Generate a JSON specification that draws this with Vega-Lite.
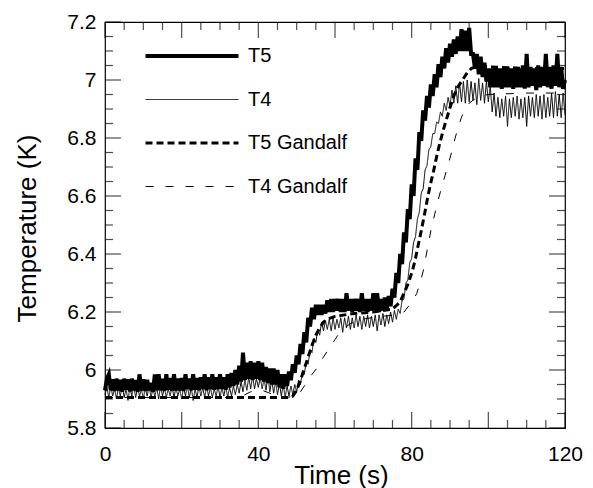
{
  "$schema": "https://vega.github.io/schema/vega-lite/v6.json",
  "width": 460,
  "height": 406,
  "autosize": {"type": "none"},
  "padding": {"left": 105, "top": 22, "right": 28, "bottom": 60},
  "background": "white",
  "config": {
    "view": {"stroke": "black", "strokeWidth": 1.2},
    "font": "Liberation Sans",
    "axis": {"grid": false, "domain": false, "ticks": false, "labelFont": "Liberation Sans", "titleFont": "Liberation Sans", "labelColor": "black", "titleColor": "black"}
  },
  "layer": [
    {
      "data": {"values": [
        {"t":0,"T5":5.93,"T4":5.915},{"t":0.5,"T5":5.97,"T4":5.94},{"t":1,"T5":5.985,"T4":5.905},{"t":1.5,"T5":5.93,"T4":5.945},
        {"t":2,"T5":5.968,"T4":5.91},{"t":2.5,"T5":5.928,"T4":5.935},{"t":3,"T5":5.97,"T4":5.9},{"t":3.5,"T5":5.93,"T4":5.94},
        {"t":4,"T5":5.966,"T4":5.91},{"t":4.5,"T5":5.925,"T4":5.945},{"t":5,"T5":5.97,"T4":5.905},{"t":5.5,"T5":5.932,"T4":5.935},
        {"t":6,"T5":5.968,"T4":5.895},{"t":6.5,"T5":5.926,"T4":5.94},{"t":7,"T5":5.97,"T4":5.91},{"t":7.5,"T5":5.93,"T4":5.945},
        {"t":8,"T5":5.965,"T4":5.905},{"t":8.5,"T5":5.925,"T4":5.94},{"t":9,"T5":5.985,"T4":5.91},{"t":9.5,"T5":5.93,"T4":5.935},
        {"t":10,"T5":5.968,"T4":5.9},{"t":10.5,"T5":5.928,"T4":5.94},{"t":11,"T5":5.966,"T4":5.91},{"t":11.5,"T5":5.93,"T4":5.945},
        {"t":12,"T5":5.955,"T4":5.905},{"t":12.5,"T5":5.925,"T4":5.935},{"t":13,"T5":5.985,"T4":5.91},{"t":13.5,"T5":5.93,"T4":5.94},
        {"t":14,"T5":5.985,"T4":5.9},{"t":14.5,"T5":5.93,"T4":5.945},{"t":15,"T5":5.97,"T4":5.91},{"t":15.5,"T5":5.928,"T4":5.94},
        {"t":16,"T5":5.985,"T4":5.905},{"t":16.5,"T5":5.932,"T4":5.935},{"t":17,"T5":5.972,"T4":5.91},{"t":17.5,"T5":5.928,"T4":5.945},
        {"t":18,"T5":5.985,"T4":5.905},{"t":18.5,"T5":5.93,"T4":5.94},{"t":19,"T5":5.97,"T4":5.91},{"t":19.5,"T5":5.93,"T4":5.935},
        {"t":20,"T5":5.972,"T4":5.9},{"t":20.5,"T5":5.928,"T4":5.94},{"t":21,"T5":5.985,"T4":5.91},{"t":21.5,"T5":5.935,"T4":5.945},
        {"t":22,"T5":5.97,"T4":5.905},{"t":22.5,"T5":5.93,"T4":5.94},{"t":23,"T5":5.985,"T4":5.895},{"t":23.5,"T5":5.932,"T4":5.935},
        {"t":24,"T5":5.972,"T4":5.905},{"t":24.5,"T5":5.93,"T4":5.945},{"t":25,"T5":5.975,"T4":5.91},{"t":25.5,"T5":5.935,"T4":5.94},
        {"t":26,"T5":5.985,"T4":5.905},{"t":26.5,"T5":5.93,"T4":5.945},{"t":27,"T5":5.975,"T4":5.91},{"t":27.5,"T5":5.935,"T4":5.94},
        {"t":28,"T5":5.985,"T4":5.905},{"t":28.5,"T5":5.932,"T4":5.935},{"t":29,"T5":5.975,"T4":5.91},{"t":29.5,"T5":5.935,"T4":5.945},
        {"t":30,"T5":5.985,"T4":5.905},{"t":30.5,"T5":5.935,"T4":5.94},{"t":31,"T5":5.975,"T4":5.91},{"t":31.5,"T5":5.932,"T4":5.945},
        {"t":32,"T5":5.985,"T4":5.905},{"t":32.5,"T5":5.94,"T4":5.94},{"t":33,"T5":5.99,"T4":5.91},{"t":33.5,"T5":5.945,"T4":5.945},
        {"t":34,"T5":6.0,"T4":5.915},{"t":34.5,"T5":5.95,"T4":5.95},{"t":35,"T5":6.015,"T4":5.92},{"t":35.5,"T5":5.96,"T4":5.96},
        {"t":36,"T5":6.06,"T4":5.925},{"t":36.5,"T5":5.965,"T4":5.965},{"t":37,"T5":6.025,"T4":5.93},{"t":37.5,"T5":5.97,"T4":5.975},
        {"t":38,"T5":6.03,"T4":5.935},{"t":38.5,"T5":5.965,"T4":5.98},{"t":39,"T5":6.025,"T4":5.935},{"t":39.5,"T5":5.97,"T4":5.97},
        {"t":40,"T5":6.03,"T4":5.94},{"t":40.5,"T5":5.965,"T4":5.975},{"t":41,"T5":6.025,"T4":5.935},{"t":41.5,"T5":5.96,"T4":5.97},
        {"t":42,"T5":6.01,"T4":5.93},{"t":42.5,"T5":5.955,"T4":5.98},{"t":43,"T5":6.005,"T4":5.925},{"t":43.5,"T5":5.95,"T4":5.965},
        {"t":44,"T5":6.005,"T4":5.92},{"t":44.5,"T5":5.95,"T4":5.96},{"t":45,"T5":6.0,"T4":5.915},{"t":45.5,"T5":5.94,"T4":5.955},
        {"t":46,"T5":5.985,"T4":5.91},{"t":46.5,"T5":5.935,"T4":5.95},{"t":47,"T5":5.985,"T4":5.905},{"t":47.5,"T5":5.945,"T4":5.945},
        {"t":48,"T5":5.995,"T4":5.91},{"t":48.5,"T5":5.965,"T4":5.945},{"t":49,"T5":6.02,"T4":5.915},{"t":49.5,"T5":5.99,"T4":5.95},
        {"t":50,"T5":6.05,"T4":5.925},{"t":50.5,"T5":6.02,"T4":5.965},{"t":51,"T5":6.09,"T4":5.95},{"t":51.5,"T5":6.055,"T4":5.995},
        {"t":52,"T5":6.13,"T4":5.985},{"t":52.5,"T5":6.095,"T4":6.03},{"t":53,"T5":6.18,"T4":6.02},{"t":53.5,"T5":6.15,"T4":6.07},
        {"t":54,"T5":6.215,"T4":6.06},{"t":54.5,"T5":6.175,"T4":6.11},{"t":55,"T5":6.225,"T4":6.095},{"t":55.5,"T5":6.19,"T4":6.14},
        {"t":56,"T5":6.225,"T4":6.12},{"t":56.5,"T5":6.19,"T4":6.165},{"t":57,"T5":6.225,"T4":6.135},{"t":57.5,"T5":6.195,"T4":6.17},
        {"t":58,"T5":6.24,"T4":6.14},{"t":58.5,"T5":6.2,"T4":6.175},{"t":59,"T5":6.245,"T4":6.135},{"t":59.5,"T5":6.2,"T4":6.18},
        {"t":60,"T5":6.245,"T4":6.14},{"t":60.5,"T5":6.205,"T4":6.175},{"t":61,"T5":6.245,"T4":6.145},{"t":61.5,"T5":6.2,"T4":6.18},
        {"t":62,"T5":6.245,"T4":6.13},{"t":62.5,"T5":6.2,"T4":6.18},{"t":63,"T5":6.265,"T4":6.145},{"t":63.5,"T5":6.205,"T4":6.185},
        {"t":64,"T5":6.245,"T4":6.14},{"t":64.5,"T5":6.2,"T4":6.18},{"t":65,"T5":6.245,"T4":6.145},{"t":65.5,"T5":6.205,"T4":6.19},
        {"t":66,"T5":6.245,"T4":6.15},{"t":66.5,"T5":6.2,"T4":6.185},{"t":67,"T5":6.265,"T4":6.14},{"t":67.5,"T5":6.205,"T4":6.185},
        {"t":68,"T5":6.245,"T4":6.15},{"t":68.5,"T5":6.2,"T4":6.19},{"t":69,"T5":6.245,"T4":6.145},{"t":69.5,"T5":6.205,"T4":6.185},
        {"t":70,"T5":6.265,"T4":6.15},{"t":70.5,"T5":6.205,"T4":6.19},{"t":71,"T5":6.265,"T4":6.135},{"t":71.5,"T5":6.2,"T4":6.19},
        {"t":72,"T5":6.245,"T4":6.155},{"t":72.5,"T5":6.205,"T4":6.195},{"t":73,"T5":6.25,"T4":6.15},{"t":73.5,"T5":6.21,"T4":6.19},
        {"t":74,"T5":6.255,"T4":6.16},{"t":74.5,"T5":6.22,"T4":6.2},{"t":75,"T5":6.28,"T4":6.165},{"t":75.5,"T5":6.25,"T4":6.205},
        {"t":76,"T5":6.335,"T4":6.175},{"t":76.5,"T5":6.3,"T4":6.21},{"t":77,"T5":6.4,"T4":6.195},{"t":77.5,"T5":6.365,"T4":6.24},
        {"t":78,"T5":6.475,"T4":6.245},{"t":78.5,"T5":6.44,"T4":6.3},{"t":79,"T5":6.555,"T4":6.31},{"t":79.5,"T5":6.52,"T4":6.37},
        {"t":80,"T5":6.64,"T4":6.385},{"t":80.5,"T5":6.6,"T4":6.44},{"t":81,"T5":6.73,"T4":6.46},{"t":81.5,"T5":6.69,"T4":6.52},
        {"t":82,"T5":6.82,"T4":6.545},{"t":82.5,"T5":6.79,"T4":6.61},{"t":83,"T5":6.895,"T4":6.625},{"t":83.5,"T5":6.86,"T4":6.69},
        {"t":84,"T5":6.945,"T4":6.705},{"t":84.5,"T5":6.905,"T4":6.76},{"t":85,"T5":6.985,"T4":6.77},{"t":85.5,"T5":6.945,"T4":6.815},
        {"t":86,"T5":7.02,"T4":6.815},{"t":86.5,"T5":6.975,"T4":6.855},{"t":87,"T5":7.055,"T4":6.85},{"t":87.5,"T5":7.01,"T4":6.89},
        {"t":88,"T5":7.08,"T4":6.875},{"t":88.5,"T5":7.04,"T4":6.92},{"t":89,"T5":7.11,"T4":6.895},{"t":89.5,"T5":7.06,"T4":6.94},
        {"t":90,"T5":7.125,"T4":6.91},{"t":90.5,"T5":7.08,"T4":6.965},{"t":91,"T5":7.14,"T4":6.92},{"t":91.5,"T5":7.09,"T4":6.98},
        {"t":92,"T5":7.15,"T4":6.92},{"t":92.5,"T5":7.1,"T4":6.99},{"t":93,"T5":7.175,"T4":6.925},{"t":93.5,"T5":7.1,"T4":6.995},
        {"t":94,"T5":7.17,"T4":6.92},{"t":94.5,"T5":7.1,"T4":7.0},{"t":95,"T5":7.18,"T4":6.925},{"t":95.5,"T5":7.09,"T4":6.995},
        {"t":96,"T5":7.09,"T4":6.93},{"t":96.5,"T5":7.04,"T4":6.99},{"t":97,"T5":7.09,"T4":6.915},{"t":97.5,"T5":7.02,"T4":7.005},
        {"t":98,"T5":7.08,"T4":6.93},{"t":98.5,"T5":7.01,"T4":6.99},{"t":99,"T5":7.06,"T4":6.92},{"t":99.5,"T5":6.995,"T4":6.995},
        {"t":100,"T5":7.04,"T4":6.925},{"t":100.5,"T5":6.975,"T4":6.98},{"t":101,"T5":7.04,"T4":6.89},{"t":101.5,"T5":6.975,"T4":6.955},
        {"t":102,"T5":7.045,"T4":6.875},{"t":102.5,"T5":6.975,"T4":6.94},{"t":103,"T5":7.04,"T4":6.87},{"t":103.5,"T5":6.97,"T4":6.935},
        {"t":104,"T5":7.04,"T4":6.875},{"t":104.5,"T5":6.975,"T4":6.945},{"t":105,"T5":7.045,"T4":6.84},{"t":105.5,"T5":6.975,"T4":6.935},
        {"t":106,"T5":7.04,"T4":6.87},{"t":106.5,"T5":6.97,"T4":6.94},{"t":107,"T5":7.045,"T4":6.875},{"t":107.5,"T5":6.975,"T4":6.945},
        {"t":108,"T5":7.04,"T4":6.865},{"t":108.5,"T5":6.975,"T4":6.935},{"t":109,"T5":7.05,"T4":6.87},{"t":109.5,"T5":6.97,"T4":6.94},
        {"t":110,"T5":7.09,"T4":6.84},{"t":110.5,"T5":6.975,"T4":6.945},{"t":111,"T5":7.045,"T4":6.875},{"t":111.5,"T5":6.98,"T4":6.94},
        {"t":112,"T5":7.04,"T4":6.87},{"t":112.5,"T5":6.965,"T4":6.95},{"t":113,"T5":7.05,"T4":6.875},{"t":113.5,"T5":6.975,"T4":6.945},
        {"t":114,"T5":7.045,"T4":6.865},{"t":114.5,"T5":6.98,"T4":6.95},{"t":115,"T5":7.09,"T4":6.87},{"t":115.5,"T5":6.975,"T4":6.94},
        {"t":116,"T5":7.045,"T4":6.875},{"t":116.5,"T5":6.97,"T4":6.955},{"t":117,"T5":7.05,"T4":6.87},{"t":117.5,"T5":6.98,"T4":6.96},
        {"t":118,"T5":7.09,"T4":6.875},{"t":118.5,"T5":6.975,"T4":6.95},{"t":119,"T5":7.045,"T4":6.87},{"t":119.5,"T5":6.97,"T4":6.955},
        {"t":120,"T5":7.0,"T4":6.88},
        {"t":0,"T5 Gandalf":5.905},{"t":20,"T5 Gandalf":5.905},{"t":40,"T5 Gandalf":5.905},{"t":48,"T5 Gandalf":5.905},
        {"t":49,"T5 Gandalf":5.91},{"t":50,"T5 Gandalf":5.93},{"t":51,"T5 Gandalf":5.965},{"t":52,"T5 Gandalf":6.005},
        {"t":53,"T5 Gandalf":6.045},{"t":54,"T5 Gandalf":6.085},{"t":55,"T5 Gandalf":6.12},{"t":56,"T5 Gandalf":6.145},
        {"t":57,"T5 Gandalf":6.165},{"t":58,"T5 Gandalf":6.175},{"t":60,"T5 Gandalf":6.185},{"t":65,"T5 Gandalf":6.195},
        {"t":70,"T5 Gandalf":6.2},{"t":75,"T5 Gandalf":6.21},{"t":77,"T5 Gandalf":6.235},{"t":78,"T5 Gandalf":6.265},
        {"t":79,"T5 Gandalf":6.295},{"t":80.2,"T5 Gandalf":6.342},{"t":81,"T5 Gandalf":6.385},{"t":81.7,"T5 Gandalf":6.43},
        {"t":82.5,"T5 Gandalf":6.48},{"t":83.4,"T5 Gandalf":6.54},{"t":84.1,"T5 Gandalf":6.59},{"t":84.8,"T5 Gandalf":6.635},
        {"t":85.7,"T5 Gandalf":6.685},{"t":86.5,"T5 Gandalf":6.735},{"t":87.3,"T5 Gandalf":6.78},{"t":88.3,"T5 Gandalf":6.83},
        {"t":89.2,"T5 Gandalf":6.87},{"t":90,"T5 Gandalf":6.905},{"t":91,"T5 Gandalf":6.945},{"t":92,"T5 Gandalf":6.975},
        {"t":93,"T5 Gandalf":6.995},{"t":94.5,"T5 Gandalf":7.025},{"t":95.6,"T5 Gandalf":7.04},{"t":97,"T5 Gandalf":7.045},
        {"t":100,"T5 Gandalf":7.045},{"t":110,"T5 Gandalf":7.04},{"t":120,"T5 Gandalf":7.04},
        {"t":0,"T4 Gandalf":5.905},{"t":35,"T4 Gandalf":5.905},{"t":38,"T4 Gandalf":5.925},{"t":41,"T4 Gandalf":5.93},
        {"t":44,"T4 Gandalf":5.915},{"t":47,"T4 Gandalf":5.905},{"t":50,"T4 Gandalf":5.91},{"t":51,"T4 Gandalf":5.925},
        {"t":52,"T4 Gandalf":5.945},{"t":53,"T4 Gandalf":5.965},{"t":54,"T4 Gandalf":5.985},{"t":55.2,"T4 Gandalf":6.005},
        {"t":57,"T4 Gandalf":6.045},{"t":58.7,"T4 Gandalf":6.079},{"t":60,"T4 Gandalf":6.105},{"t":61,"T4 Gandalf":6.125},
        {"t":62,"T4 Gandalf":6.14},{"t":64,"T4 Gandalf":6.16},{"t":67,"T4 Gandalf":6.175},{"t":72,"T4 Gandalf":6.185},
        {"t":76,"T4 Gandalf":6.19},{"t":78,"T4 Gandalf":6.2},{"t":79.5,"T4 Gandalf":6.225},{"t":80.5,"T4 Gandalf":6.245},
        {"t":81.3,"T4 Gandalf":6.263},{"t":82.2,"T4 Gandalf":6.3},{"t":83,"T4 Gandalf":6.341},{"t":83.7,"T4 Gandalf":6.39},
        {"t":84.3,"T4 Gandalf":6.43},{"t":85,"T4 Gandalf":6.48},{"t":85.7,"T4 Gandalf":6.52},{"t":86.8,"T4 Gandalf":6.58},
        {"t":87.8,"T4 Gandalf":6.63},{"t":88.7,"T4 Gandalf":6.67},{"t":89.6,"T4 Gandalf":6.712},{"t":90.5,"T4 Gandalf":6.755},
        {"t":91.3,"T4 Gandalf":6.798},{"t":92.2,"T4 Gandalf":6.84},{"t":93,"T4 Gandalf":6.872},{"t":94,"T4 Gandalf":6.9},
        {"t":95,"T4 Gandalf":6.92},{"t":96.5,"T4 Gandalf":6.935},{"t":98,"T4 Gandalf":6.945},{"t":100,"T4 Gandalf":6.95},
        {"t":110,"T4 Gandalf":6.955},{"t":120,"T4 Gandalf":6.955}
      ]},
      "transform": [
        {"fold": ["T5", "T4", "T5 Gandalf", "T4 Gandalf"], "as": ["series", "v"]},
        {"filter": "isValid(datum.v)"}
      ],
      "mark": {"type": "line", "color": "black", "strokeCap": "butt"},
      "encoding": {
        "x": {"field": "t", "type": "quantitative", "scale": {"domain": [0, 120], "nice": false},
          "axis": {"orient": "bottom", "values": [0, 40, 80, 120], "labelFontSize": 21, "labelPadding": 26, "labelBaseline": "middle", "labelFlush": false, "format": "d",
            "title": "Time (s)", "titleFontSize": 26, "titleFontWeight": "normal", "titleX": 236, "titleY": 55, "titleBaseline": "alphabetic", "titleAlign": "center", "titleAnchor": null}},
        "y": {"field": "v", "type": "quantitative", "scale": {"domain": [5.8, 7.2], "nice": false, "zero": false},
          "axis": {"orient": "left", "values": [5.8, 6, 6.2, 6.4, 6.6, 6.8, 7, 7.2], "labelFontSize": 21, "labelPadding": 9, "labelFlush": false, "format": "~g",
            "title": "Temperature (K)", "titleFontSize": 26, "titleFontWeight": "normal", "titleX": -70, "titleY": 206, "titleAngle": -90, "titleBaseline": "alphabetic", "titleAlign": "center", "titleAnchor": null}},
        "strokeDash": {"field": "series", "type": "nominal",
          "scale": {"domain": ["T5", "T4", "T5 Gandalf", "T4 Gandalf"], "range": [[1, 0], [1, 0], [7, 4], [8, 12]]},
          "legend": {"title": null, "orient": "none", "legendX": 77, "legendY": 24, "symbolType": "stroke", "symbolSize": 8649, "symbolStrokeColor": "black",
            "labelFontSize": 20, "labelFont": "Liberation Sans", "labelColor": "black", "labelOffset": 46, "rowPadding": 23.5, "padding": 0,
            "encode": {"symbols": {"update": {"strokeWidth": {"signal": "datum.value === 'T5' ? 4 : datum.value === 'T5 Gandalf' ? 3 : 1"}}}}}},
        "strokeWidth": {"condition": [{"test": "datum.series === 'T5'", "value": 4}, {"test": "datum.series === 'T5 Gandalf'", "value": 3}], "value": 1}
      }
    },
    {
      "data": {"values": [{"t":0},{"t":20},{"t":40},{"t":60},{"t":80},{"t":100},{"t":120}]},
      "mark": {"type": "tick", "color": "black", "orient": "vertical", "size": 16, "thickness": 1.2, "yOffset": -8},
      "encoding": {"x": {"field": "t", "type": "quantitative"}, "y": {"datum": 5.8}}
    },
    {
      "data": {"values": [{"t":0},{"t":20},{"t":40},{"t":60},{"t":80},{"t":100},{"t":120}]},
      "mark": {"type": "tick", "color": "black", "orient": "vertical", "size": 16, "thickness": 1.2, "yOffset": 8},
      "encoding": {"x": {"field": "t", "type": "quantitative"}, "y": {"datum": 7.2}}
    },
    {
      "data": {"values": [{"t":5},{"t":10},{"t":15},{"t":25},{"t":30},{"t":35},{"t":45},{"t":50},{"t":55},{"t":65},{"t":70},{"t":75},{"t":85},{"t":90},{"t":95},{"t":105},{"t":110},{"t":115}]},
      "mark": {"type": "tick", "color": "black", "orient": "vertical", "size": 8, "thickness": 1.2, "yOffset": -4},
      "encoding": {"x": {"field": "t", "type": "quantitative"}, "y": {"datum": 5.8}}
    },
    {
      "data": {"values": [{"t":5},{"t":10},{"t":15},{"t":25},{"t":30},{"t":35},{"t":45},{"t":50},{"t":55},{"t":65},{"t":70},{"t":75},{"t":85},{"t":90},{"t":95},{"t":105},{"t":110},{"t":115}]},
      "mark": {"type": "tick", "color": "black", "orient": "vertical", "size": 8, "thickness": 1.2, "yOffset": 4},
      "encoding": {"x": {"field": "t", "type": "quantitative"}, "y": {"datum": 7.2}}
    },
    {
      "data": {"values": [{"v":5.8},{"v":6.0},{"v":6.2},{"v":6.4},{"v":6.6},{"v":6.8},{"v":7.0},{"v":7.2}]},
      "mark": {"type": "tick", "color": "black", "orient": "horizontal", "size": 16, "thickness": 1.2, "xOffset": 8},
      "encoding": {"y": {"field": "v", "type": "quantitative"}, "x": {"datum": 0}}
    },
    {
      "data": {"values": [{"v":5.8},{"v":6.0},{"v":6.2},{"v":6.4},{"v":6.6},{"v":6.8},{"v":7.0},{"v":7.2}]},
      "mark": {"type": "tick", "color": "black", "orient": "horizontal", "size": 16, "thickness": 1.2, "xOffset": -8},
      "encoding": {"y": {"field": "v", "type": "quantitative"}, "x": {"datum": 120}}
    },
    {
      "data": {"values": [{"v":5.85},{"v":5.9},{"v":5.95},{"v":6.05},{"v":6.1},{"v":6.15},{"v":6.25},{"v":6.3},{"v":6.35},{"v":6.45},{"v":6.5},{"v":6.55},{"v":6.65},{"v":6.7},{"v":6.75},{"v":6.85},{"v":6.9},{"v":6.95},{"v":7.05},{"v":7.1},{"v":7.15}]},
      "mark": {"type": "tick", "color": "black", "orient": "horizontal", "size": 8, "thickness": 1.2, "xOffset": 4},
      "encoding": {"y": {"field": "v", "type": "quantitative"}, "x": {"datum": 0}}
    },
    {
      "data": {"values": [{"v":5.85},{"v":5.9},{"v":5.95},{"v":6.05},{"v":6.1},{"v":6.15},{"v":6.25},{"v":6.3},{"v":6.35},{"v":6.45},{"v":6.5},{"v":6.55},{"v":6.65},{"v":6.7},{"v":6.75},{"v":6.85},{"v":6.9},{"v":6.95},{"v":7.05},{"v":7.1},{"v":7.15}]},
      "mark": {"type": "tick", "color": "black", "orient": "horizontal", "size": 8, "thickness": 1.2, "xOffset": -4},
      "encoding": {"y": {"field": "v", "type": "quantitative"}, "x": {"datum": 120}}
    }
  ]
}
